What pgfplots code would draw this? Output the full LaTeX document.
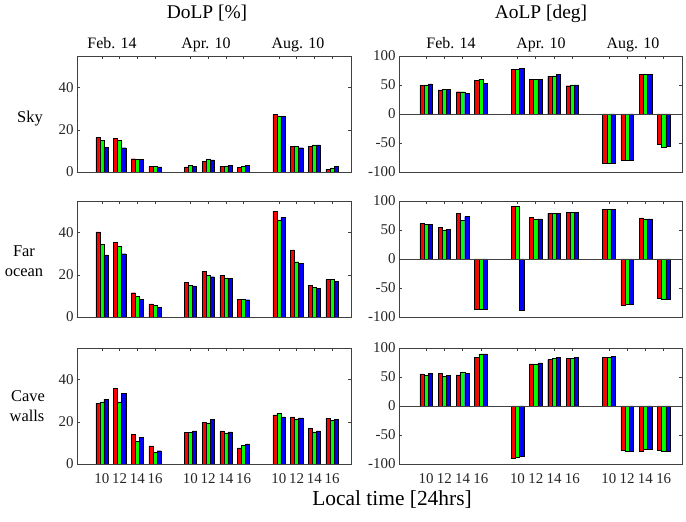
\documentclass[border=0pt]{standalone}
\usepackage{fontspec}
\setmainfont{Liberation Serif}
\usepackage{pgfplots}
\pgfplotsset{compat=1.18}
\usepackage{pgfplotstable}

\pgfplotstableread{
x r g b
0 16.3 15.0 11.8
1 15.8 15.0 11.5
2 6.3 6.0 6.0
3 2.7 2.7 2.4
5 2.4 3.2 2.7
6 5.2 6.2 5.8
7 2.7 2.7 3.2
8 2.2 2.7 3.2
10 27.3 26.5 26.5
11 12.3 12.3 11.5
12 12.3 12.9 12.9
13 1.4 1.9 2.7
}\skyD

\pgfplotstableread{
x r g b
0 40.4 34.4 29.5
1 35.5 33.5 30.0
2 11.5 9.8 8.5
3 6.2 5.4 4.7
5 16.3 15.0 14.7
6 21.5 19.9 19.1
7 19.9 18.6 18.2
8 8.5 8.5 8.2
10 50.2 46.1 47.2
11 31.8 26.2 25.6
12 15.0 14.1 13.7
13 17.7 17.7 16.9
}\oceanD

\pgfplotstableread{
x r g b
0 28.9 29.4 30.8
1 36.0 29.4 33.5
2 14.0 10.8 12.7
3 8.6 5.6 6.3
5 15.1 15.1 15.7
6 19.7 19.5 21.3
7 15.7 14.8 15.2
8 7.6 9.0 9.5
10 23.3 24.1 22.4
11 22.4 21.4 21.9
12 16.8 15.2 15.7
13 21.6 20.6 21.1
}\caveD

\pgfplotstableread{
x r g b
0 49.9 50.0 52.0
1 41.8 42.0 42.0
2 38.4 38.4 36.1
3 57.9 60.2 53.3
5 77.4 77.4 78.5
6 60.2 60.2 60.2
7 64.8 65.9 68.2
8 48.7 50.4 50.4
10 -84.8 -84.8 -84.8
11 -79.1 -79.1 -79.1
12 68.2 68.2 68.2
13 -52.1 -57.3 -56.2
}\skyA

\pgfplotstableread{
x r g b
0 61.5 59.8 59.8
1 54.0 50.0 51.7
2 78.7 67.2 73.0
3 -87.4 -87.4 -87.4
5 90.8 90.8 -89.1
6 71.3 67.8 69.0
7 78.7 78.7 78.7
8 80.5 80.5 80.5
10 85.6 85.6 85.6
11 -80.0 -78.0 -78.0
12 70.7 69.0 69.0
13 -68.4 -70.1 -70.1
}\oceanA

\pgfplotstableread{
x r g b
0 55.3 53.0 56.5
1 56.5 50.7 53.0
2 53.6 58.2 55.9
3 83.6 89.9 89.9
5 -89.3 -88.2 -86.5
6 72.6 72.6 74.4
7 80.1 81.8 84.1
8 81.8 81.8 83.6
10 83.6 83.6 85.3
11 -76.7 -78.4 -78.4
12 -78.4 -73.8 -73.8
13 -76.7 -78.4 -78.4
}\caveA

\pgfplotsset{
  panel/.style={
    scale only axis, height=116bp, anchor=south west,
    axis line style={black!75, line width=0.8bp},
    tick align=inside, ytick pos=both, yticklabel pos=left,
    xtick pos=right, xticklabel pos=left,
    xtick={0,1,2,3,5,6,7,8,10,11,12,13},
    xticklabels={},
    major tick length=3bp,
    tick style={black!75, line width=0.6bp},
    ticklabel style={font=\fontsize{15}{15}\selectfont, text=black!85},
    xticklabel style={yshift=-6bp},
  },
  dolp/.style={panel, width=274bp, xmin=-1.41, xmax=14.07, ymin=0, ymax=55,
    ytick={0,20,40}, yticklabels={0,20,40}},
  aolp/.style={panel, width=283bp, xmin=-1.48, xmax=14.0, ymin=-100, ymax=100,
    ytick={-100,-50,0,50,100}, yticklabels={-100,-50,0,50,100}},
  bottomrow/.style={xticklabels={10,12,14,16,10,12,14,16,10,12,14,16}},
}

\newcommand{\bars}[1]{%
  \addplot[ybar, bar width=0.23, bar shift=-0.23, fill=red, draw=black, line width=0.4bp] table[x=x,y=r]{#1};
  \addplot[ybar, bar width=0.23, bar shift=0, fill=green, draw=black, line width=0.4bp] table[x=x,y=g]{#1};
  \addplot[ybar, bar width=0.23, bar shift=0.23, fill=blue, draw=black, line width=0.4bp] table[x=x,y=b]{#1};
}
\newcommand{\zeroline}{\draw[black!75, line width=0.8bp] (rel axis cs:0,0.5) -- (rel axis cs:1,0.5);}

\begin{document}
\begin{tikzpicture}
\useasboundingbox (0,0) rectangle (686bp,522bp);

% Row 1
\begin{axis}[dolp, at={(77bp,350bp)}]
\bars{\skyD}
\end{axis}
\begin{axis}[aolp, at={(399bp,350bp)}]
\bars{\skyA}
\zeroline
\end{axis}

% Row 2
\begin{axis}[dolp, at={(77bp,205bp)}]
\bars{\oceanD}
\end{axis}
\begin{axis}[aolp, at={(399bp,205bp)}]
\bars{\oceanA}
\zeroline
\end{axis}

% Row 3
\begin{axis}[dolp, bottomrow, at={(77bp,58bp)}]
\bars{\caveD}
\end{axis}
\begin{axis}[aolp, bottomrow, at={(399bp,58bp)}]
\bars{\caveA}
\zeroline
\end{axis}

% Titles
\node[anchor=base, font=\fontsize{19.5}{20}\selectfont] at (207bp,503bp) {DoLP [\%]};
\node[anchor=base, font=\fontsize{19.5}{20}\selectfont] at (541bp,503bp) {AoLP [deg]};

% Group labels
\foreach \xx/\lab in {112/Feb. 14, 206/Apr. 10, 298/Aug. 10, 451/Feb. 14, 541/Apr. 10, 633/Aug. 10}{
  \node[anchor=base, font=\fontsize{16}{16}\selectfont] at (\xx bp,473bp) {\lab};
}

% Row labels
\node[anchor=base, font=\fontsize{16.5}{17}\selectfont] at (30bp,399bp) {Sky};
\node[anchor=base, font=\fontsize{16.5}{17}\selectfont] at (24bp,265bp) {Far};
\node[anchor=base, font=\fontsize{16.5}{17}\selectfont] at (24bp,245bp) {ocean};
\node[anchor=base, font=\fontsize{16.5}{17}\selectfont] at (28bp,120bp) {Cave};
\node[anchor=base, font=\fontsize{16.5}{17}\selectfont] at (27bp,100bp) {walls};

% x label
\node[anchor=base, font=\fontsize{21.5}{22}\selectfont] at (392bp,17bp) {Local time [24hrs]};
\end{tikzpicture}
\end{document}
